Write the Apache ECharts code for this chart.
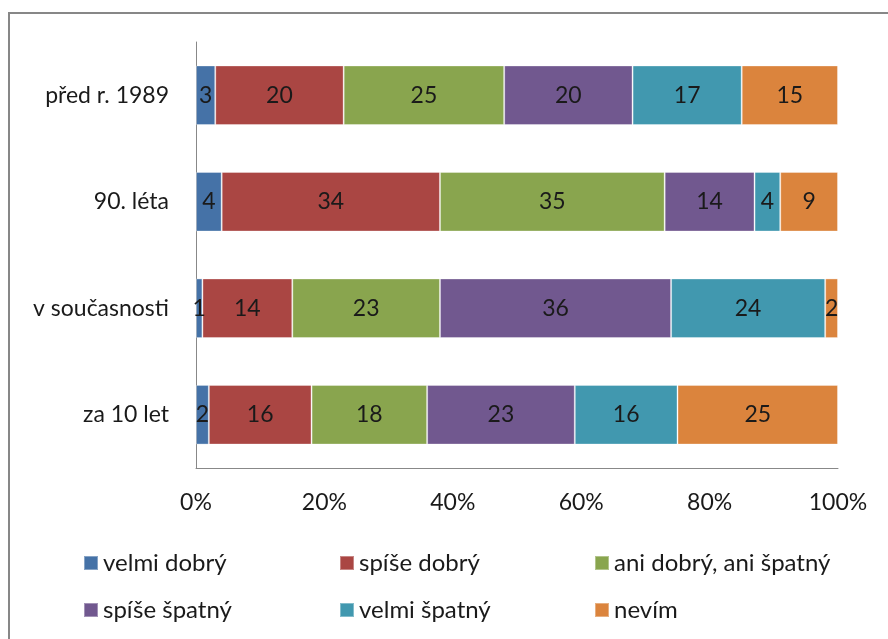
<!DOCTYPE html>
<html><head><meta charset="utf-8">
<script src="https://cdn.jsdelivr.net/npm/echarts@6/dist/echarts.min.js"></script>
<style>html,body{margin:0;padding:0;background:#fff}#c{width:888px;height:639px}</style>
</head><body><div id="c"></div>
<script>
const categories = ['před r. 1989', '90. léta', 'v současnosti', 'za 10 let'];
const seriesNames = ['velmi dobrý', 'spíše dobrý', 'ani dobrý, ani špatný', 'spíše špatný', 'velmi špatný', 'nevím'];
const velmiDobry = [3, 4, 1, 2];
const spiseDobry = [20, 34, 14, 16];
const aniAni = [25, 35, 23, 18];
const spiseSpatny = [20, 14, 36, 23];
const velmiSpatny = [17, 4, 24, 16];
const nevim = [15, 9, 2, 25];
const tickLabels = ['0%', '20%', '40%', '60%', '80%', '100%'];
const colors = ['#4572A7', '#AA4643', '#89A54E', '#71588F', '#4198AF', '#DB843D'];

const values = [velmiDobry, spiseDobry, aniAni, spiseSpatny, velmiSpatny, nevim];
const FONT = 'Lato';
const FS = 23;
const chart = echarts.init(document.getElementById('c'));
const legendPos = [[78, 546], [334, 546], [589, 546], [78, 593], [334, 593], [589, 593]];
chart.setOption({
  animation: false,
  graphic: [{ type: 'rect', shape: { x: 9, y: 13, width: 900, height: 700 }, style: { fill: 'none', stroke: '#878787', lineWidth: 2 }, z: -1 }],
  grid: { left: 196, right: 50, top: 42, bottom: 171 },
  legend: seriesNames.map((n, i) => ({
    data: [n], left: legendPos[i][0], top: legendPos[i][1], itemWidth: 14, itemHeight: 14, itemGap: 0,
    icon: 'rect', textStyle: { fontFamily: FONT, fontSize: 24, color: '#1a1a1a', padding: [0, 0, 0, 0] }
  })),
  xAxis: {
    type: 'value', min: 0, max: 100, interval: 20,
    axisLine: { show: true, lineStyle: { color: '#888' } },
    axisTick: { show: false }, splitLine: { show: false },
    axisLabel: { fontFamily: FONT, fontSize: FS, color: '#1a1a1a', margin: 23, formatter: v => tickLabels[v / 20] }
  },
  yAxis: {
    type: 'category', data: categories, inverse: true,
    axisLine: { show: true, lineStyle: { color: '#888' } },
    axisTick: { show: false },
    axisLabel: { fontFamily: FONT, fontSize: FS, color: '#1a1a1a', margin: 27 }
  },
  series: seriesNames.map((n, i) => ({
    name: n, type: 'bar', stack: 'all', data: values[i], barWidth: '56%',
    itemStyle: { color: colors[i], borderColor: 'rgba(255,255,255,0.35)', borderWidth: 1 },
    label: { show: true, position: 'inside', fontFamily: FONT, fontSize: FS, color: '#1a1a1a' }
  }))
});
</script></body></html>
